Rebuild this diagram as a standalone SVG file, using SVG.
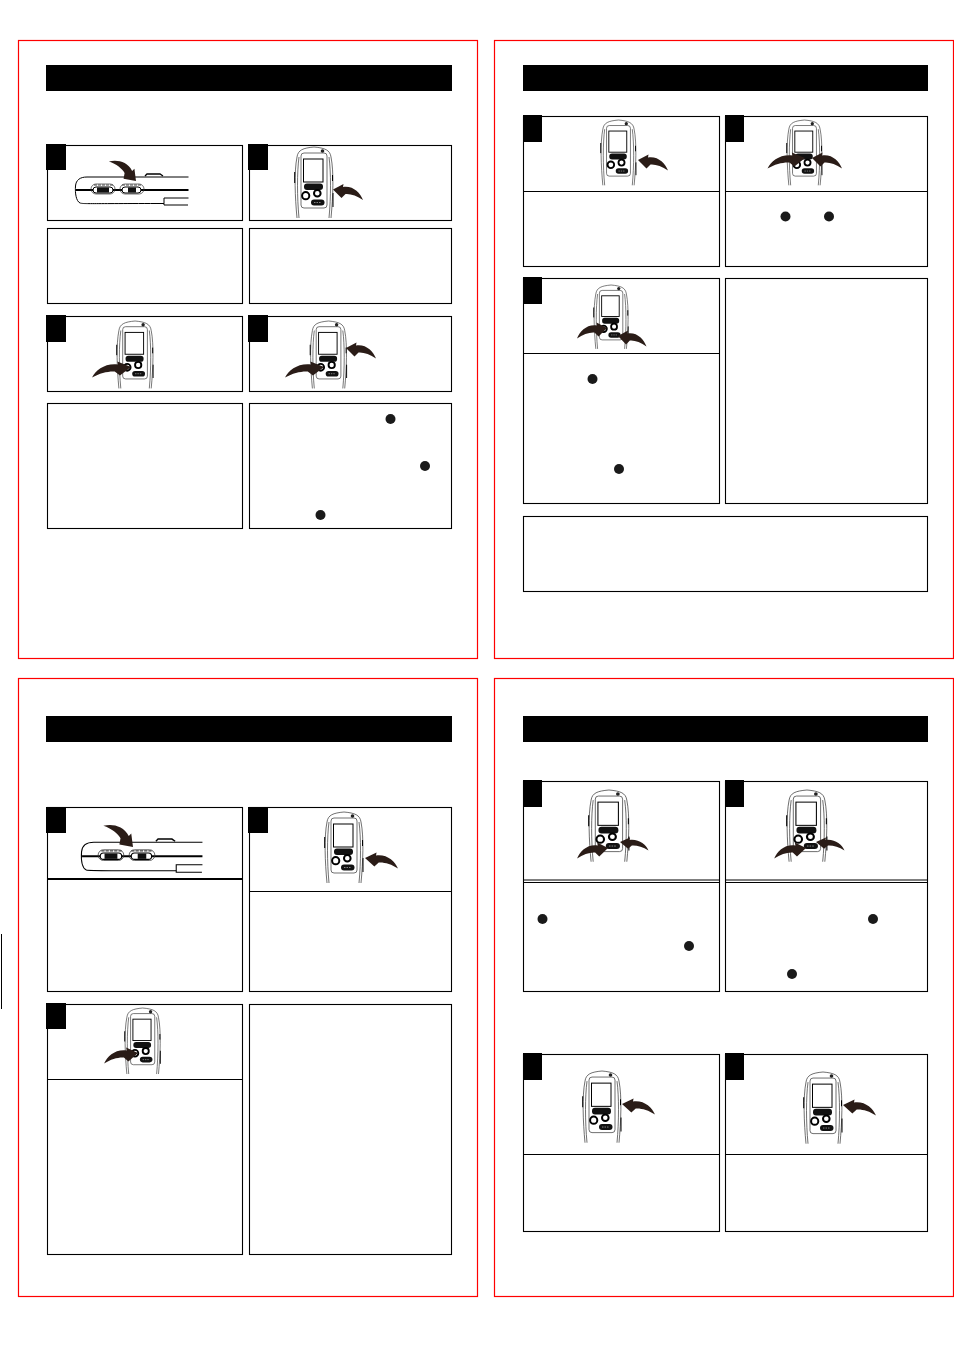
<svg xmlns="http://www.w3.org/2000/svg" width="954" height="1350" viewBox="0 0 954 1350">
<style>
.page{fill:#fff;stroke:#f00;stroke-width:1.2}
.box{fill:none;stroke:#000;stroke-width:1.1}
.div{stroke:#000;stroke-width:1.1;fill:none}
.head,.sq{fill:#000}
.dot{fill:#1a1a1a}
.l{fill:none;stroke:#333;stroke-width:.7}
.k{fill:none;stroke:#000;stroke-width:1}
.arr{fill:#2a1c17}
</style>
<defs>
<g id="device">
<path class="l" d="M2,71C0,50-1,25 2,10C3,3 8,1 19,0C30,1 35,3 36,10C39,25 38,50 36,71"/>
<path class="l" d="M4,71C2,50 2,25 4,10M34,10C36,25 36,50 34,71"/>
<rect class="l" x="6" y="6" width="26" height="55" rx="3"/>
<path class="k" d="M-.3,25V36M37.500,28V34M38,46V60"/>
<circle cx="27.500" cy="4" r="1.800" fill="#222"/>
<rect x="8.500" y="12" width="19.500" height="23" fill="#fff" stroke="#000" stroke-width="1"/>
<rect x="9" y="36.500" width="19" height="6.500" rx="3" fill="#111"/>
<circle cx="10.700" cy="48.700" r="3.600" fill="#fff" stroke="#000" stroke-width="2"/>
<circle cx="22.300" cy="46.300" r="3.300" fill="#fff" stroke="#000" stroke-width="2"/>
<rect x="16" y="52.500" width="13.500" height="6" rx="3" fill="#111"/>
<path d="M19,55.500h7" stroke="#ccc" stroke-width=".6" stroke-dasharray="1.500 1"/>
</g>
<path id="arrow" class="arr" d="M0,0L10.500,-5.500L10,-2.500C20,-4 27,3 30,10.500C24,6 17,4 12.500,4.500L8.500,8.500Z"/>
<g id="side">
<path class="k" d="M113.500,4H12C5,4 1,7 .5,13C0,20 1,28 5,30C8,31 12,30.500 89,30.500V25H113.500"/>
<path class="k" d="M89,30.500V32H113"/>
<path class="k" d="M1,17H113.500" style="stroke-width:1.800"/>
<path class="k" d="M70,3L72,1H85L88,3" style="stroke-width:1.300"/>
<rect class="l" x="16" y="11" width="24" height="10" rx="5" fill="#fff"/>
<rect class="l" x="45" y="11" width="24" height="10" rx="5" fill="#fff"/>
<rect x="18" y="14" width="20" height="6" rx="3" fill="#fff" stroke="#000" stroke-width="1"/>
<rect x="47" y="14" width="19" height="6" rx="3" fill="#fff" stroke="#000" stroke-width="1"/>
<rect x="22" y="14.500" width="12" height="5" fill="#111"/>
<rect x="53" y="14.500" width="8" height="5" fill="#111"/>
<path d="M19,12H38M47,12H66" stroke="#444" stroke-width="1" stroke-dasharray="3 1"/>
</g>
</defs>
<rect width="954" height="1350" fill="#fff"/>
<path d="M1.500,934V1009" stroke="#000" stroke-width="1"/>

<g id="page-1">
<rect class="page" x="18.500" y="40.500" width="459" height="618"/>
<rect class="head" x="46" y="65" width="406" height="26"/>
<g id="p1-step1"><rect class="box" x="47.500" y="145.500" width="195" height="75"/><rect class="sq" x="46" y="144" width="20" height="26"/><use href="#side" x="75" y="173"/><use href="#arrow" transform="translate(136,181) rotate(-125) scale(1.050,-1.050)"/></g>
<g id="p1-step2"><rect class="box" x="249.500" y="145.500" width="202" height="75"/><rect class="sq" x="248" y="144" width="20" height="26"/><use href="#device" x="295" y="147"/><use href="#arrow" transform="translate(333,189.500)"/></g>
<rect id="p1-text1" class="box" x="47.500" y="228.500" width="195" height="75"/>
<rect id="p1-text2" class="box" x="249.500" y="228.500" width="202" height="75"/>
<g id="p1-step3"><rect class="box" x="47.500" y="316.500" width="195" height="75"/><rect class="sq" x="46" y="315" width="20" height="27"/><use href="#device" transform="translate(117,321) scale(.95)"/><use href="#arrow" transform="translate(131,367) scale(-1.300,1)"/></g>
<g id="p1-step4"><rect class="box" x="249.500" y="316.500" width="202" height="75"/><rect class="sq" x="248" y="315" width="20" height="27"/><use href="#device" transform="translate(310.500,321) scale(.95)"/><use href="#arrow" transform="translate(324,367) scale(-1.300,1)"/><use href="#arrow" transform="translate(346,348)"/></g>
<rect id="p1-text3" class="box" x="47.500" y="403.500" width="195" height="125"/>
<g id="p1-text4"><rect class="box" x="249.500" y="403.500" width="202" height="125"/><circle class="dot" cx="390.500" cy="419" r="5"/><circle class="dot" cx="425" cy="466" r="5"/><circle class="dot" cx="320.500" cy="515" r="5"/></g>
</g>

<g id="page-2">
<rect class="page" x="494.500" y="40.500" width="459" height="618"/>
<rect class="head" x="523" y="65" width="405" height="26"/>
<g id="p2-step1"><rect class="box" x="523.500" y="116.500" width="196" height="150"/><path class="div" d="M523.500,191.500H719.500"/><rect class="sq" x="523" y="115" width="19" height="27"/><use href="#device" transform="translate(601,120) scale(.92)"/><use href="#arrow" transform="translate(638,160)"/></g>
<g id="p2-step2"><rect class="box" x="725.500" y="116.500" width="202" height="150"/><path class="div" d="M725.500,191.500H927.500"/><rect class="sq" x="725" y="115" width="19" height="27"/><use href="#device" transform="translate(787,120) scale(.92)"/><use href="#arrow" transform="translate(805,158) scale(-1.250,1)"/><use href="#arrow" transform="translate(812,158)"/><circle class="dot" cx="785.500" cy="216.500" r="5"/><circle class="dot" cx="829" cy="216.500" r="5"/></g>
<g id="p2-step3"><rect class="box" x="523.500" y="278.500" width="196" height="225"/><path class="div" d="M523.500,353.500H719.500"/><rect class="sq" x="523" y="277" width="19" height="27"/><use href="#device" transform="translate(594,285) scale(.9)"/><use href="#arrow" transform="translate(607,328) scale(-1,1)"/><use href="#arrow" transform="translate(618,336) scale(.95,1)"/><circle class="dot" cx="592.500" cy="379" r="5"/><circle class="dot" cx="619" cy="469" r="5"/></g>
<rect id="p2-text" class="box" x="725.500" y="278.500" width="202" height="225"/>
<rect id="p2-note" class="box" x="523.500" y="516.500" width="404" height="75"/>
</g>

<g id="page-3">
<rect class="page" x="18.500" y="678.500" width="459" height="618"/>
<rect class="head" x="46" y="716" width="406" height="26"/>
<g id="p3-step1"><rect class="box" x="47.500" y="807.500" width="195" height="184"/><path class="div" d="M47.500,879H242.500" style="stroke-width:1.800"/><rect class="sq" x="46" y="807" width="20" height="26"/><use href="#side" transform="translate(81,838) scale(1.070)"/><use href="#arrow" transform="translate(133,847) rotate(-125) scale(1.150,-1.150)"/></g>
<g id="p3-step2"><rect class="box" x="249.500" y="807.500" width="202" height="184"/><path class="div" d="M249.500,891.500H451.500"/><rect class="sq" x="248" y="807" width="20" height="26"/><use href="#device" transform="translate(325,812)"/><use href="#arrow" transform="translate(365,858) scale(1.100,1)"/></g>
<g id="p3-step3"><rect class="box" x="47.500" y="1004.500" width="195" height="250"/><path class="div" d="M47.500,1079.500H242.500"/><rect class="sq" x="46" y="1003" width="20" height="26"/><use href="#device" transform="translate(125,1008) scale(.93)"/><use href="#arrow" transform="translate(138,1053) scale(-1.130,1)"/></g>
<rect id="p3-text" class="box" x="249.500" y="1004.500" width="202" height="250"/>
</g>

<g id="page-4">
<rect class="page" x="494.500" y="678.500" width="459" height="618"/>
<rect class="head" x="523" y="716" width="405" height="26"/>
<g id="p4-step1"><rect class="box" x="523.500" y="781.500" width="196" height="210"/><path class="div" d="M523.500,880H719.500M523.500,882.500H719.500"/><rect class="sq" x="523" y="780" width="19" height="27"/><use href="#device" transform="translate(589,790) scale(1.050,1.010)"/><use href="#arrow" transform="translate(608,848) scale(-1.030,1)"/><use href="#arrow" transform="translate(620,842) scale(.95,.8)"/><circle class="dot" cx="542.500" cy="919" r="5"/><circle class="dot" cx="689" cy="946" r="5"/></g>
<g id="p4-step2"><rect class="box" x="725.500" y="781.500" width="202" height="210"/><path class="div" d="M725.500,880H927.500M725.500,882.500H927.500"/><rect class="sq" x="725" y="780" width="19" height="27"/><use href="#device" transform="translate(787,790) scale(1.050,1.010)"/><use href="#arrow" transform="translate(806,848) scale(-1.060,1)"/><use href="#arrow" transform="translate(816,842) scale(.95,.8)"/><circle class="dot" cx="873" cy="919" r="5"/><circle class="dot" cx="792" cy="974" r="5"/></g>
<g id="p4-step3"><rect class="box" x="523.500" y="1054.500" width="196" height="177"/><path class="div" d="M523.500,1154.500H719.500"/><rect class="sq" x="523" y="1053" width="19" height="27"/><use href="#device" transform="translate(583,1071) scale(1,1.010)"/><use href="#arrow" transform="translate(622,1104) scale(1.100,1)"/></g>
<g id="p4-step4"><rect class="box" x="725.500" y="1054.500" width="202" height="177"/><path class="div" d="M725.500,1154.500H927.500"/><rect class="sq" x="725" y="1053" width="19" height="27"/><use href="#device" transform="translate(804,1072) scale(1,1.010)"/><use href="#arrow" transform="translate(843,1105) scale(1.100,1)"/></g>
</g>
</svg>
